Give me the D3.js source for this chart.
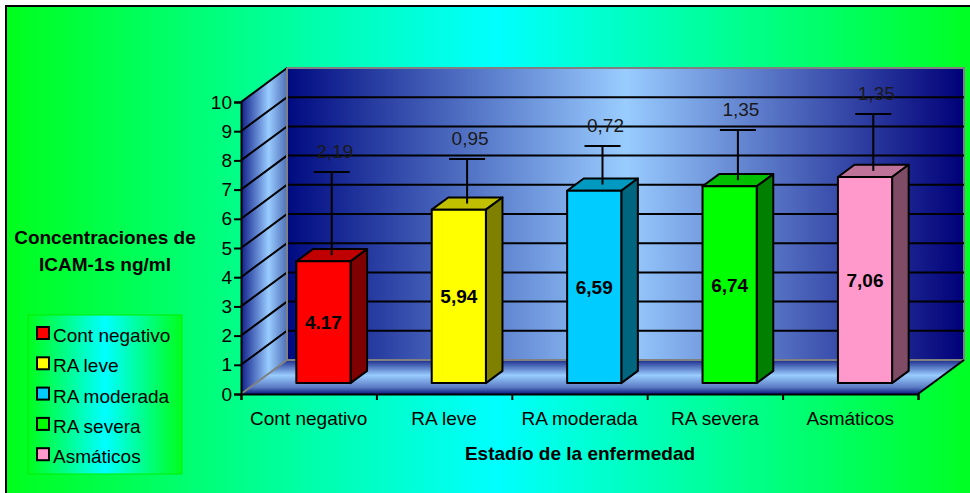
<!DOCTYPE html>
<html>
<head>
<meta charset="utf-8">
<script src="https://cdn.jsdelivr.net/npm/d3@7"></script>
<style>
  body { margin: 0; background: #fff; }
  text { font-family: Arial, "Liberation Sans", sans-serif; }
</style>
</head>
<body>
<div id="chart"></div>
<script>
// data
var categories = ["Cont negativo", "RA leve", "RA moderada", "RA severa", "Asmáticos"];
var values = [4.17, 5.94, 6.59, 6.74, 7.06];
var valueLabels = ["4.17", "5,94", "6,59", "6,74", "7,06"];
var errors = [2.85, 1.53, 1.32, 1.72, 1.95];
var errorLabels = ["2,19", "0,95", "0,72", "1,35", "1,35"];
var colors = ["#ff0000", "#ffff00", "#00ccff", "#00ff00", "#ff99cc"];
var yTicks = [0, 1, 2, 3, 4, 5, 6, 7, 8, 9, 10];

var W = 970, H = 493;
var depth = {dx: 46, dy: -34};   // 3d offset of the back wall
var barFront = 0.32, barBack = 0.68;

var x = d3.scaleBand().domain(categories).range([241, 918]),
  xb = d3.scaleLinear().domain([0, categories.length]).range([241, 918]),
  y = d3.scaleLinear().domain([0, 10]).range([394, 102]);

var barW = x.bandwidth() * 0.4;

function P(px, v, d) {
  return [px + d * depth.dx, y(v) + d * depth.dy];
}
function poly(pts) {
  return pts.map(function(p) { return p.join(","); }).join(" ");
}

var svg = d3.select("#chart").append("svg")
  .attr("width", W)
  .attr("height", H);

var defs = svg.append("defs");
function grad(id, x2, y2, stops, units) {
  var g = defs.append("linearGradient").attr("id", id)
    .attr("x1", 0).attr("y1", 0).attr("x2", x2).attr("y2", y2);
  stops.forEach(function(s) {
    g.append("stop").attr("offset", s[0]).attr("stop-color", s[1]);
  });
  return g;
}
grad("bg", 1, 0, [[0, "#00ff1c"], [0.5, "#00ffff"], [1, "#00ff1c"]]);
grad("wall", 1, 0, [[0, "#000a80"], [0.5, "#99ccff"], [1, "#000078"]]);
grad("side", 1, 0, [[0, "#10208a"], [0.6, "#99ccff"], [1, "#5070b8"]]);
grad("floor", 0, 1, [[0, "#1c2c8c"], [0.45, "#99ccff"], [0.8, "#5c7cc4"], [1, "#0c1a80"]]);

// background + border
svg.append("rect")
  .attr("x", 6).attr("y", 6)
  .attr("width", W + 10).attr("height", H + 10)
  .attr("fill", "url(#bg)")
  .attr("stroke", "#000")
  .attr("stroke-width", 2);

var left = 241, right = 918;

// back wall
svg.append("polygon")
  .attr("points", poly([P(left, 10, 1), P(right, 10, 1), P(right, 0, 1), P(left, 0, 1)]))
  .attr("fill", "url(#wall)")
  .attr("stroke", "#808080")
  .attr("stroke-width", 2);

// side wall
svg.append("polygon")
  .attr("points", poly([P(left, 10, 0), P(left, 10, 1), P(left, 0, 1), P(left, 0, 0)]))
  .attr("fill", "url(#side)");

// floor
svg.append("polygon")
  .attr("points", poly([P(left, 0, 0), P(right, 0, 0), P(right, 0, 1), P(left, 0, 1)]))
  .attr("fill", "url(#floor)");

// gridlines on back and side walls
var grid = svg.append("g").attr("stroke", "#000").attr("stroke-width", 2).attr("fill", "none");
yTicks.filter(function(t) { return t > 0 && t < 10; }).forEach(function(t) {
  grid.append("polyline")
    .attr("points", poly([P(left, t, 0), P(left, t, 1), P(right, t, 1)]));
});
grid.append("line")
  .attr("x1", P(left, 10, 0)[0]).attr("y1", P(left, 10, 0)[1])
  .attr("x2", P(left, 10, 1)[0]).attr("y2", P(left, 10, 1)[1])
  .attr("stroke", "#000");

// grey edges
var edges = svg.append("g").attr("stroke", "#808080").attr("stroke-width", 2).attr("fill", "none");
edges.append("polyline").attr("points", poly([P(left, 0, 0), P(left, 0, 1), P(right, 0, 1)]));
edges.append("polyline").attr("points", poly([P(left, 0, 1), P(left, 10, 1)]));
// floor right edge
svg.append("line")
  .attr("x1", P(right, 0, 0)[0]).attr("y1", P(right, 0, 0)[1])
  .attr("x2", P(right, 0, 1)[0]).attr("y2", P(right, 0, 1)[1])
  .attr("stroke", "#000").attr("stroke-width", 2);

// axes
var yAxis = d3.axisLeft(y).tickValues(yTicks).tickSize(7).tickPadding(2);
var gy = svg.append("g")
  .attr("transform", "translate(" + left + ",0)")
  .call(yAxis);
gy.selectAll("text").attr("font-size", 19).attr("fill", "#000").style("font-family", "Arial, 'Liberation Sans', sans-serif");
gy.selectAll("line, path").attr("stroke", "#000").attr("stroke-width", 2);

var xAxis = d3.axisBottom(xb).ticks(categories.length).tickSize(6).tickFormat("");
var gx = svg.append("g")
  .attr("transform", "translate(0," + y(0) + ")")
  .call(xAxis);
gx.selectAll("line, path").attr("stroke", "#000").attr("stroke-width", 2);

svg.append("g").selectAll("text")
  .data(categories)
  .enter()
  .append("text")
  .attr("x", function(d) { return x(d) + x.bandwidth() / 2; })
  .attr("y", 425)
  .attr("text-anchor", "middle")
  .attr("font-size", 19)
  .text(function(d) { return d; });

// bars
var bars = svg.append("g").attr("stroke", "#000").attr("stroke-width", 2).attr("stroke-linejoin", "round");
categories.forEach(function(c, i) {
  var x0 = x(c) + (x.bandwidth() - barW) / 2, x1 = x0 + barW, v = values[i];
  var col = d3.color(colors[i]);
  // top
  bars.append("polygon")
    .attr("points", poly([P(x0, v, barFront), P(x1, v, barFront), P(x1, v, barBack), P(x0, v, barBack)]))
    .attr("fill", col.darker(0.8));
  // right side
  bars.append("polygon")
    .attr("points", poly([P(x1, 0, barFront), P(x1, v, barFront), P(x1, v, barBack), P(x1, 0, barBack)]))
    .attr("fill", col.darker(1.95));
  // front
  bars.append("polygon")
    .attr("points", poly([P(x0, 0, barFront), P(x1, 0, barFront), P(x1, v, barFront), P(x0, v, barFront)]))
    .attr("fill", col);
});

// error bars
var err = svg.append("g").attr("stroke", "#000").attr("stroke-width", 2);
categories.forEach(function(c, i) {
  var cx = x(c) + x.bandwidth() / 2;
  var b = P(cx, values[i], 0.5), t = P(cx, values[i] + errors[i], 0.5);
  err.append("line").attr("x1", b[0]).attr("y1", b[1]).attr("x2", t[0]).attr("y2", t[1]);
  err.append("line").attr("x1", t[0] - 18).attr("y1", t[1]).attr("x2", t[0] + 18).attr("y2", t[1]);
  svg.append("text")
    .attr("x", t[0] + 3)
    .attr("y", t[1] - 14)
    .attr("text-anchor", "middle")
    .attr("font-size", 19)
    .attr("fill", "#1a1a1a")
    .text(errorLabels[i]);
  var m = P(cx, values[i] / 2, barFront);
  svg.append("text")
    .attr("x", m[0])
    .attr("y", m[1] + 7)
    .attr("text-anchor", "middle")
    .attr("font-size", 19)
    .attr("font-weight", "bold")
    .text(valueLabels[i]);
});

// axis titles
svg.append("text")
  .attr("x", 580)
  .attr("y", 460)
  .attr("text-anchor", "middle")
  .attr("font-size", 19)
  .attr("font-weight", "bold")
  .text("Estadío de la enfermedad");

var yt = svg.append("text")
  .attr("text-anchor", "middle")
  .attr("font-size", 19)
  .attr("font-weight", "bold");
yt.append("tspan").attr("x", 105).attr("y", 244).text("Concentraciones de");
yt.append("tspan").attr("x", 105).attr("y", 271).text("ICAM-1s ng/ml");

// legend
var legend = svg.append("g");
legend.append("rect")
  .attr("x", 28).attr("y", 315)
  .attr("width", 154).attr("height", 159)
  .attr("fill", "url(#bg)")
  .attr("stroke", "#00ee00")
  .attr("stroke-width", 1);
categories.forEach(function(c, i) {
  var by = 342 + i * 30.3;
  legend.append("rect")
    .attr("x", 37).attr("y", by - 15)
    .attr("width", 12).attr("height", 12)
    .attr("fill", colors[i])
    .attr("stroke", "#000")
    .attr("stroke-width", 2);
  legend.append("text")
    .attr("x", 53).attr("y", by)
    .attr("font-size", 19)
    .text(c);
});
</script>
</body>
</html>
